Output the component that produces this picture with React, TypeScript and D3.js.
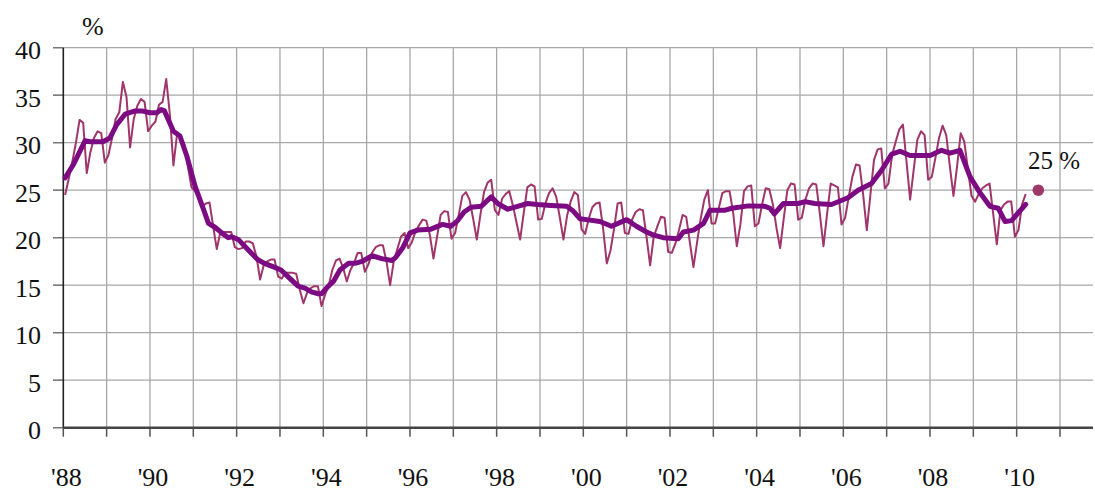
import React from 'react';
import * as d3 from 'd3';

const W = 1095;
const H = 489;
const START_YEAR = 1988;

// Monthly values, Jan 1988 – Mar 2010 (%)
const monthlyRate: number[] = [
  // 1988
  24.5, 26.2, 28.0, 30.0, 32.4, 32.1, 26.8, 29.0, 30.5, 31.2, 31.0, 27.9,
  // 1989
  28.7, 30.5, 32.5, 33.2, 36.4, 34.8, 29.5, 32.5, 33.9, 34.6, 34.3, 31.2,
  // 1990
  31.8, 32.2, 34.0, 34.3, 36.7, 33.0, 27.6, 30.9, 30.6, 29.8, 27.5, 25.3,
  // 1991
  24.9, 24.2, 23.3, 23.6, 23.7, 21.2, 18.8, 20.6, 20.6, 20.6, 20.6, 19.0,
  // 1992
  18.8, 18.9, 19.6, 19.6, 19.4, 18.0, 15.6, 17.1, 17.5, 17.7, 17.7, 15.9,
  // 1993
  15.7, 16.3, 16.3, 16.3, 16.2, 14.5, 13.1, 14.2, 14.7, 14.9, 14.9, 12.8,
  // 1994
  14.0, 15.0, 16.6, 17.6, 17.8, 16.8, 15.4, 16.6, 17.3, 18.4, 18.4, 16.4,
  // 1995
  17.2, 18.4, 19.0, 19.2, 19.2, 17.5, 15.0, 17.5, 18.8, 20.1, 20.5, 18.9,
  // 1996
  19.5, 20.6, 21.3, 21.9, 21.8, 20.3, 17.8, 20.1, 22.4, 22.8, 22.7, 19.9,
  // 1997
  20.5, 22.4, 24.4, 24.8, 24.0, 22.0, 19.8, 22.4, 24.8, 25.8, 26.1, 22.9,
  // 1998
  22.4, 24.1, 24.6, 24.9, 23.4, 21.6, 19.8, 22.6, 25.3, 25.6, 25.4, 21.9,
  // 1999
  22.0, 23.6, 24.7, 25.2, 24.3, 22.1, 19.8, 22.3, 23.8, 24.8, 24.5, 20.9,
  // 2000
  20.4, 22.0, 23.2, 23.6, 23.7, 20.9, 17.3, 18.6, 20.9, 23.6, 23.7, 20.5,
  // 2001
  20.4, 21.9, 22.7, 23.0, 22.9, 20.1, 17.1, 20.1, 21.2, 22.2, 22.1, 18.5,
  // 2002
  18.4, 19.4, 20.8, 22.4, 22.2, 19.5, 16.9, 19.5, 22.0, 24.0, 25.0, 21.5,
  // 2003
  21.5, 23.1, 24.7, 24.9, 24.9, 22.6, 19.1, 21.4, 24.9, 25.4, 25.5, 21.2,
  // 2004
  21.5, 23.5, 25.2, 25.1, 23.5, 21.0, 18.9, 22.0, 25.0, 25.7, 25.6, 21.9,
  // 2005
  22.1, 24.0, 25.2, 25.7, 25.6, 22.5, 19.1, 22.5, 25.7, 25.5, 25.3, 21.4,
  // 2006
  22.1, 24.3, 26.4, 27.7, 27.6, 24.5, 20.8, 24.5, 28.2, 29.3, 29.4, 25.2,
  // 2007
  25.7, 28.7, 30.1, 31.4, 31.9, 28.0, 24.0, 27.2, 30.3, 31.2, 30.8, 26.1,
  // 2008
  26.4, 28.4, 30.5, 31.8, 30.8, 27.5, 24.4, 27.5, 31.0, 30.1, 27.2, 24.4,
  // 2009
  23.8, 24.6, 25.2, 25.5, 25.7, 22.5, 19.3, 22.9, 23.5, 23.8, 23.8, 20.1,
  // 2010
  20.8, 23.5, 24.6,
];

// Trend line vertices: month index from Jan 1988, value (%)
const trendMonth: number[] = [
  0, 2.3, 5.5, 7, 10.5, 12.4, 14.3, 16.6, 19.4, 21.2, 23.5, 25.4, 26.6, 27.5,
  30, 31.8, 33.7, 36, 38.3, 39.7, 41.5, 43.4, 45.2, 46.1, 48, 50, 53.3, 55.2,
  57.9, 59.8, 61.7, 64.5, 66.4, 68.2, 70.1, 71, 72.9, 74.3, 76.1, 78.5, 80.3,
  82.2, 85, 87.7, 90.5, 91.5, 93.6, 95.5, 97.6, 101.3, 104.5, 106.8, 108.7,
  110.5, 112.4, 115.2, 118, 119.8, 122.6, 125.3, 128.1, 130.8, 134.5, 138.9,
  140.7, 142.6, 144.4, 148.1, 151.3, 155.5, 158.2, 161, 162.8, 165.6, 169.8,
  171.2, 174, 176.8, 178.6, 182.8, 184.6, 189.2, 193.8, 195.2, 196.4, 198.9,
  203, 204.9, 207.6, 212.2, 216.8, 219.6, 223.3, 226.1, 228.9, 231.2, 234,
  239.5, 242.7, 245, 247.8, 250.6, 253.4, 256.1, 258.4, 260.3, 262.1, 263.9, 266,
];
const trendValue: number[] = [
  26.3, 27.7, 30.2, 30.1, 30.1, 30.5, 31.9, 33.0, 33.35, 33.35, 33.15, 33.15, 33.5, 33.35,
  31.2, 30.7, 28.6, 25.4, 23.0, 21.5, 21.1, 20.5, 20.0, 20.1, 19.8, 19.0, 17.7, 17.3,
  16.9, 16.6, 15.9, 14.9, 14.7, 14.3, 14.1, 14.1, 14.9, 15.4, 16.6, 17.3, 17.3,
  17.5, 18.1, 17.8, 17.6, 17.9, 19.0, 20.5, 20.8, 20.9, 21.4, 21.2, 21.8,
  22.7, 23.2, 23.3, 24.3, 23.6, 23.0, 23.3, 23.6, 23.5, 23.4, 23.3,
  22.8, 22.0, 21.9, 21.7, 21.2, 21.9, 21.2, 20.6, 20.3, 20.0, 19.9,
  20.6, 20.8, 21.5, 22.9, 22.9, 23.1, 23.35, 23.3, 23.1, 22.5, 23.6,
  23.6, 23.8, 23.6, 23.5, 24.2, 25.0, 25.7, 27.1, 28.8, 29.1, 28.65,
  28.65, 29.2, 28.9, 29.2, 26.4, 24.7, 23.3, 23.1, 21.7, 21.8, 22.6, 23.5,
];

const yTicks: number[] = [0, 5, 10, 15, 20, 25, 30, 35, 40];
const xTickYears: number[] = d3.range(1988, 2012);
const xLabelYears: number[] = [1988, 1990, 1992, 1994, 1996, 1998, 2000, 2002, 2004, 2006, 2008, 2010];
const latestTime = 2010.5;
const latestValue = 25;
const latestLabel = '25 %';
const unitLabel = '%';

const FONT = "Liberation Serif, Tinos, Noto Serif, DejaVu Serif, FreeSerif, Times, serif";
const textStyle: React.CSSProperties = { fontFamily: FONT };

export default function App() {
  const x = d3.scaleLinear().domain([1988, 2011]).range([63.3, 1060]);
  const y = d3.scaleLinear().domain([0, 40]).range([427.7, 47.7]);
  const plotRight = 1093;

  const monthT = (m: number) => START_YEAR + (m + 0.5) / 12;

  const thinData = monthlyRate.map((v, i) => [monthT(i), v] as [number, number]);
  const trendData = trendMonth.map((m, i) => [monthT(m), trendValue[i]] as [number, number]);

  const line = d3
    .line<[number, number]>()
    .x((d) => x(d[0]))
    .y((d) => y(d[1]));

  const twoDigit = (yr: number) => "'" + String(yr % 100).padStart(2, '0');

  return (
    <svg
      width={W}
      height={H}
      style={{ position: 'absolute', left: 0, top: 0, background: '#fff', fontFamily: FONT }}
    >
      {/* horizontal gridlines */}
      {yTicks.map((t) => (
        <line
          key={'h' + t}
          x1={53}
          x2={plotRight}
          y1={y(t)}
          y2={y(t)}
          stroke="#a8a8a8"
          strokeWidth={1.3}
        />
      ))}
      {/* y ticks */}
      {yTicks.map((t) => (
        <line
          key={'yt' + t}
          x1={53}
          x2={x(1988)}
          y1={y(t)}
          y2={y(t)}
          stroke="#777"
          strokeWidth={1.4}
        />
      ))}
      {/* vertical gridlines */}
      {xTickYears.slice(1).map((yr) => (
        <line
          key={'v' + yr}
          x1={x(yr)}
          x2={x(yr)}
          y1={y(40)}
          y2={y(0)}
          stroke="#a8a8a8"
          strokeWidth={1.3}
        />
      ))}
      {/* x ticks */}
      {xTickYears.map((yr) => (
        <line
          key={'xt' + yr}
          x1={x(yr)}
          x2={x(yr)}
          y1={y(0)}
          y2={y(0) + 9}
          stroke="#555"
          strokeWidth={1.5}
        />
      ))}
      {/* y axis */}
      <line x1={x(1988)} x2={x(1988)} y1={y(40)} y2={y(0)} stroke="#222" strokeWidth={1.6} />
      {/* x axis */}
      <line x1={x(1988)} x2={plotRight} y1={y(0)} y2={y(0)} stroke="#444" strokeWidth={2.4} />

      {/* y labels */}
      {yTicks.map((t) => (
        <text key={'yl' + t} x={41} y={y(t) + 11.5} textAnchor="end" fontSize={26} fill="#111" style={textStyle}>
          {t}
        </text>
      ))}
      {/* x labels */}
      {xLabelYears.map((yr) => (
        <text key={'xl' + yr} x={x(yr) + 3} y={486} textAnchor="middle" fontSize={26} fill="#111" style={textStyle}>
          {twoDigit(yr)}
        </text>
      ))}
      <text x={82} y={35} fontSize={26} fill="#111" style={textStyle}>
        {unitLabel}
      </text>

      {/* monthly series */}
      <path d={line(thinData) || ''} fill="none" stroke="#a0356b" strokeWidth={2} strokeLinejoin="round" />
      {/* trend */}
      <path d={line(trendData) || ''} fill="none" stroke="#7c0a82" strokeWidth={5} strokeLinejoin="round" strokeLinecap="round" />

      {/* latest point */}
      <circle cx={x(latestTime)} cy={y(latestValue)} r={5.8} fill="#9e3868" />
      <text x={1028} y={169} fontSize={25} fill="#111" style={textStyle}>
        {latestLabel}
      </text>
    </svg>
  );
}
